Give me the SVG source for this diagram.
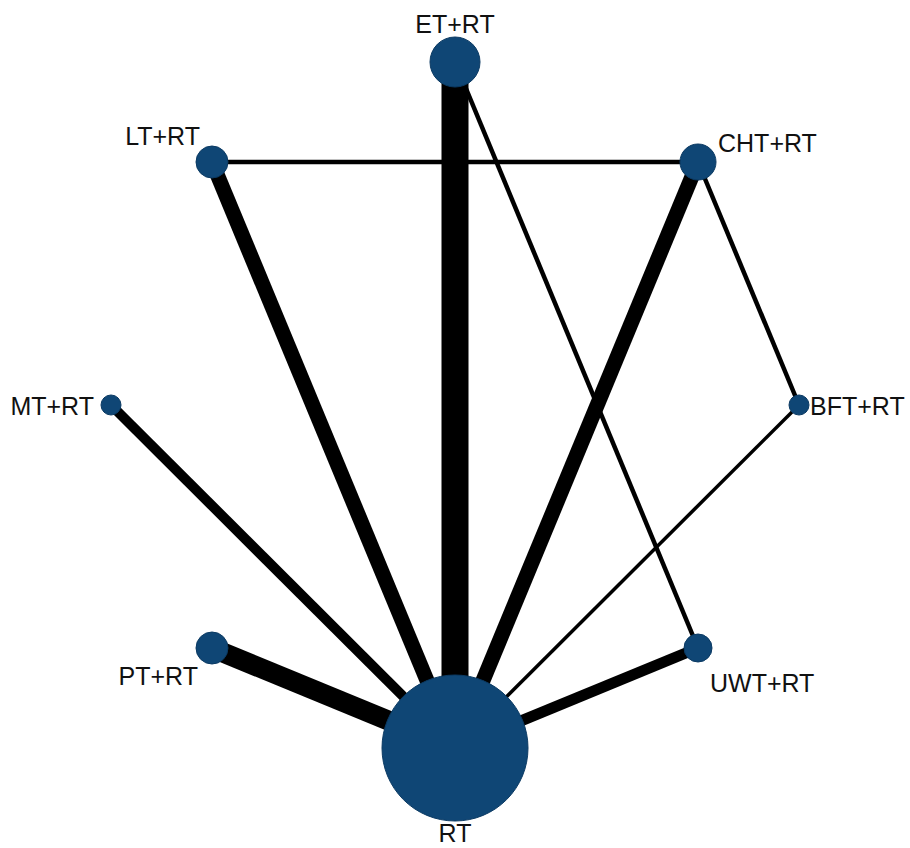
<svg xmlns="http://www.w3.org/2000/svg" width="910" height="848" viewBox="0 0 910 848">
<style>
.e{stroke:#000;fill:none;stroke-linecap:butt}
.n{fill:#0f4675;stroke:#0b3a63;stroke-width:1}
.t{font-family:"Liberation Sans",Arial,sans-serif;font-size:25px;fill:#111}
</style>
<rect width="910" height="848" fill="#fff"/>
<g id="edges">
<line class="e" x1="455" y1="62" x2="455" y2="748" stroke-width="27"/>
<line class="e" x1="212" y1="162" x2="455" y2="748" stroke-width="15"/>
<line class="e" x1="698" y1="162" x2="455" y2="748" stroke-width="15"/>
<line class="e" x1="111" y1="405" x2="455" y2="748" stroke-width="10"/>
<line class="e" x1="212" y1="648" x2="455" y2="748" stroke-width="20"/>
<line class="e" x1="698" y1="648" x2="455" y2="748" stroke-width="11"/>
<line class="e" x1="799" y1="405" x2="455" y2="748" stroke-width="3.5"/>
<line class="e" x1="212" y1="162" x2="698" y2="162" stroke-width="4.5"/>
<line class="e" x1="455" y1="62" x2="698" y2="648" stroke-width="4.5"/>
<line class="e" x1="698" y1="162" x2="799" y2="405" stroke-width="4.5"/>
</g>
<g id="ET"><circle class="n" cx="455" cy="62" r="25"/><text class="t" x="455" y="33" text-anchor="middle">ET+RT</text></g>
<g id="LT"><circle class="n" cx="212" cy="162" r="16"/><text class="t" x="200" y="145" text-anchor="end">LT+RT</text></g>
<g id="CHT"><circle class="n" cx="698" cy="162" r="18"/><text class="t" x="718" y="152">CHT+RT</text></g>
<g id="MT"><circle class="n" cx="111" cy="405" r="10"/><text class="t" x="94" y="415" text-anchor="end">MT+RT</text></g>
<g id="BFT"><circle class="n" cx="799" cy="405" r="10"/><text class="t" x="810" y="415">BFT+RT</text></g>
<g id="PT"><circle class="n" cx="212" cy="648" r="16"/><text class="t" x="198" y="685" text-anchor="end">PT+RT</text></g>
<g id="UWT"><circle class="n" cx="698" cy="648" r="14"/><text class="t" x="710" y="692">UWT+RT</text></g>
<g id="RT"><circle class="n" cx="455" cy="748" r="73"/><text class="t" x="455" y="842" text-anchor="middle">RT</text></g>
</svg>
